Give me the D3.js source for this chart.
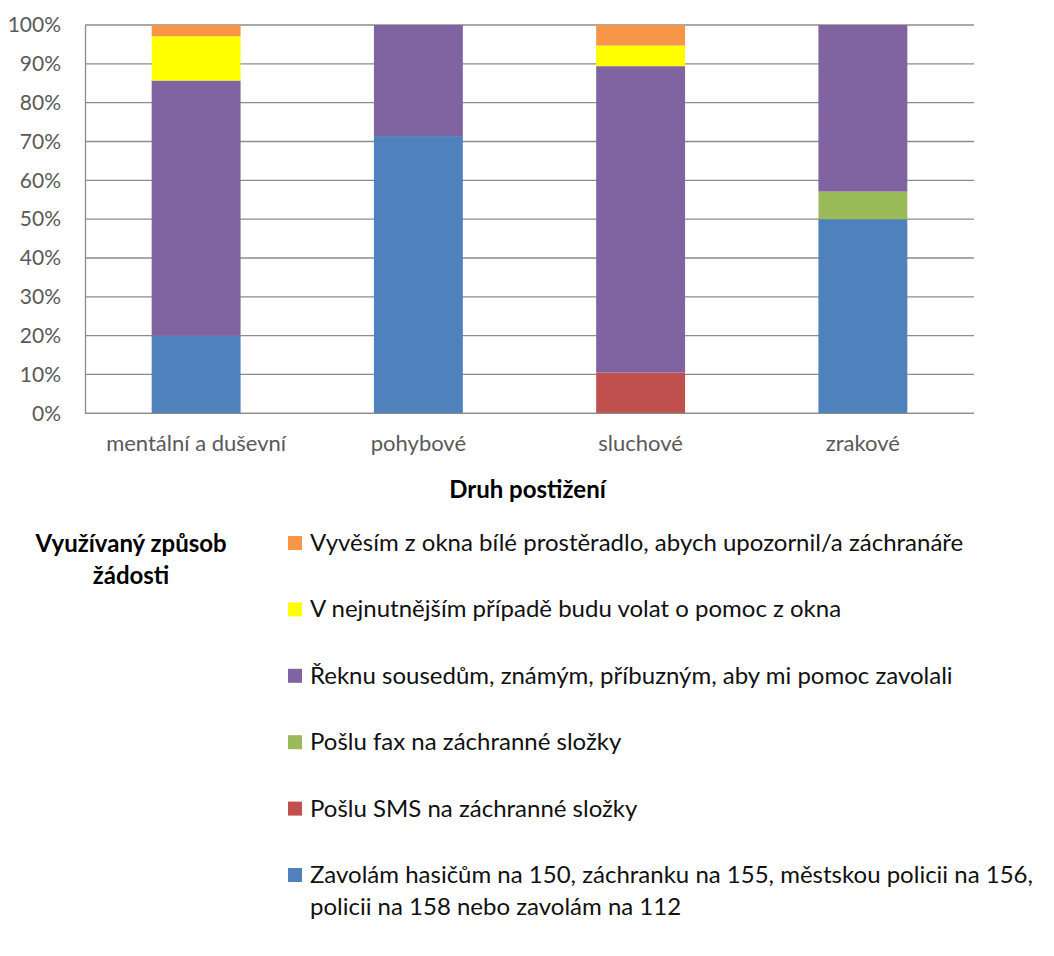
<!DOCTYPE html>
<html>
<head>
<meta charset="utf-8">
<script src="https://cdn.jsdelivr.net/npm/d3@7"></script>
<style>
  body { margin: 0; background: #fff; }
  svg { display: block; font-family: Lato, "Open Sans", sans-serif; }
</style>
</head>
<body>
<svg id="chart" width="1054" height="956"></svg>
<script>
const categories = ["mentální a duševní", "pohybové", "sluchové", "zrakové"];
const seriesNames = [
  "Zavolám hasičům na 150, záchranku na 155, městskou policii na 156, policii na 158 nebo zavolám na 112",
  "Pošlu SMS na záchranné složky",
  "Pošlu fax na záchranné složky",
  "Řeknu sousedům, známým, příbuzným, aby mi pomoc zavolali",
  "V nejnutnějším případě budu volat o pomoc z okna",
  "Vyvěsím z okna bílé prostěradlo, abych upozornil/a záchranáře"
];
const volam = [20.0, 71.4, 0, 50.0];
const sms = [0, 0, 10.5, 0];
const fax = [0, 0, 0, 7.1];
const reknu = [65.7, 28.6, 78.9, 42.9];
const okno = [11.4, 0, 5.3, 0];
const prosteradlo = [2.9, 0, 5.3, 0];
const colors = ["#4F81BD", "#C0504D", "#9BBB59", "#8064A2", "#FFFF00", "#F79646"];
const yTicks = [0, 10, 20, 30, 40, 50, 60, 70, 80, 90, 100];
const xTitle = "Druh postižení";
const legendTitle = ["Využívaný způsob", "žádosti"];

(function () {
const seriesValues = [volam, sms, fax, reknu, okno, prosteradlo];
const keys = seriesNames.map((_, i) => "s" + i);
const rows = categories.map((c, ci) => {
  const r = { cat: c };
  keys.forEach((k, si) => r[k] = seriesValues[si][ci]);
  return r;
});
const stacked = d3.stack().keys(keys)(rows);

const svg = d3.select("#chart");
const pLeft = 85, pRight = 974, pTop = 25, pBottom = 413.3;

const x = d3.scaleBand().domain(categories).range([pLeft, pRight]).paddingInner(0.6).paddingOuter(0.3);
const y = d3.scaleLinear().domain([0, 100]).range([pBottom, pTop]);

svg.append("g")
  .selectAll("line").data(yTicks).join("line")
  .attr("x1", pLeft).attr("x2", pRight)
  .attr("y1", d => y(d)).attr("y2", d => y(d))
  .attr("stroke", "#8c8c8c").attr("stroke-width", 1.3);

svg.append("g").selectAll("g").data(stacked).join("g")
  .attr("fill", (d, i) => colors[i])
  .selectAll("rect").data(d => d).join("rect")
  .attr("x", d => x(d.data.cat))
  .attr("width", x.bandwidth())
  .attr("y", d => y(d[1]))
  .attr("height", d => y(d[0]) - y(d[1]));

const yAxis = svg.append("g").attr("transform", `translate(${pLeft},0)`)
  .call(d3.axisLeft(y).tickValues(yTicks).tickFormat(d => d + "%").tickSize(0).tickPadding(24));
yAxis.select(".domain").attr("stroke", "#8c8c8c").attr("stroke-width", 1.3);
yAxis.selectAll("text").attr("font-size", 21).attr("fill", "#595959").attr("font-family", "Lato, sans-serif");

const xAxis = svg.append("g").attr("transform", `translate(0,${pBottom})`)
  .call(d3.axisBottom(x).tickSize(0).tickPadding(22));
xAxis.select(".domain").attr("stroke", "#8c8c8c").attr("stroke-width", 1.3).attr("d", `M${pLeft},0H${pRight}`);
xAxis.selectAll("text").attr("font-size", 22).attr("fill", "#595959").attr("font-family", "Lato, sans-serif");

svg.append("text").attr("x", (pLeft + pRight) / 2 - 2).attr("y", 498)
  .attr("text-anchor", "middle").attr("font-size", 24).attr("font-weight", "bold")
  .attr("fill", "#000").text(xTitle);

svg.append("text").attr("x", 131).attr("y", 552).attr("text-anchor", "middle")
  .attr("font-size", 24).attr("font-weight", "bold").attr("fill", "#000").text(legendTitle[0]);
svg.append("text").attr("x", 131).attr("y", 584).attr("text-anchor", "middle")
  .attr("font-size", 24).attr("font-weight", "bold").attr("fill", "#000").text(legendTitle[1]);

const legendOrder = d3.range(seriesNames.length).reverse();
const ly = d3.scalePoint().domain(legendOrder).range([543, 875]);
const lg = svg.append("g").selectAll("g").data(legendOrder).join("g")
  .attr("transform", d => `translate(288,${ly(d)})`);
lg.append("rect").attr("x", 0).attr("y", -7).attr("width", 14).attr("height", 14)
  .attr("fill", d => colors[d]);
lg.each(function(d) {
  const t = d3.select(this).append("text").attr("x", 22).attr("y", 8)
    .attr("font-size", 24).attr("fill", "#111");
  const name = seriesNames[d];
  if (d === 0) {
    const parts = ["Zavolám hasičům na 150, záchranku na 155, městskou policii na 156,", "policii na 158 nebo zavolám na 112"];
    parts.forEach((p, i) => t.append("tspan").attr("x", 22).attr("dy", i === 0 ? 0 : 32).text(p));
  } else {
    t.text(name);
  }
});
})();
</script>
</body>
</html>
